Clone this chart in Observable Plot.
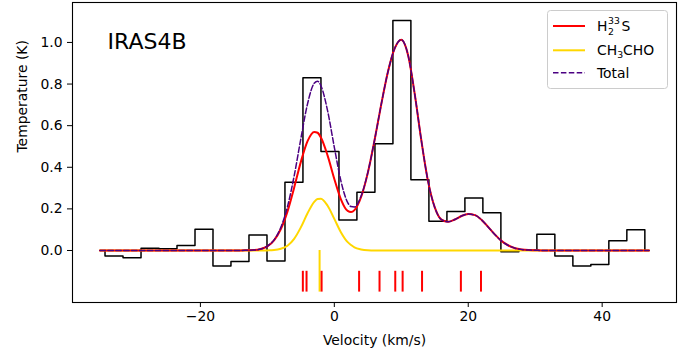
<!DOCTYPE html>
<html><head><meta charset="utf-8">
<script src="https://cdn.jsdelivr.net/npm/d3@7"></script>
<script src="https://cdn.jsdelivr.net/npm/@observablehq/plot@0.6"></script>
<style>
body{margin:0;background:#fff;}
#chart{width:691px;height:356px;}
</style></head><body><div id="chart"></div>
<script>
// Observed spectrum (channel centres, km/s) and brightness temperature (K)
const channelVelocity = [-32.90,-30.21,-27.52,-24.84,-22.15,-19.46,-16.78,-14.09,-11.40,-8.71,
  -6.03,-3.34,-0.65,2.03,4.72,7.41,10.09,12.78,15.47,18.16,
  20.84,23.53,26.22,28.91,31.59,34.28,36.97,39.65,42.34,45.03];
const channelTemperature = [-0.027,-0.035,0.011,0.008,0.024,0.102,-0.075,-0.053,0.074,-0.051,
  0.328,0.830,0.476,0.147,0.280,0.513,1.106,0.340,0.141,0.188,
  0.252,0.181,-0.006,0.001,0.078,-0.027,-0.074,-0.067,0.047,0.100];

// Model curves
const modelVelocity = [-35,-14,-13,-12,-11,-10,-9,-8,-7,-6,-5,-4,-3,-2.5,-2,-1,0,1,2,2.5,3,4,5,6,7,8,9,10,
  11,12,13,14,15,16,17,18,19,20,21,22,23,24,25,26,27,28,29,30,31,47];
const h2s33Model = [0,0,0.001,0.002,0.007,0.020,0.049,0.102,0.187,0.302,0.426,0.526,0.570,0.566,0.543,0.456,0.344,0.245,0.190,0.185,0.194,0.257,0.373,0.529,0.701,0.858,0.970,1.013,
  0.941,0.754,0.528,0.332,0.207,0.148,0.138,0.149,0.166,0.175,0.170,0.147,0.112,0.076,0.045,0.024,0.011,0.005,0.002,0.001,0,0];
const ch3choModel = [0,0,0,0,0,0.0005,0.002,0.008,0.023,0.056,0.111,0.179,0.234,0.248,0.249,0.215,0.152,0.087,0.040,0.026,0.015,0.005,0.001,0,0,0,0,0,
  0,0,0,0,0,0,0,0,0,0,0,0,0,0,0,0,0,0,0,0,0,0];
const totalModel = [0,0,0.001,0.002,0.007,0.021,0.051,0.110,0.210,0.358,0.537,0.705,0.804,0.814,0.792,0.671,0.496,0.332,0.230,0.211,0.209,0.262,0.374,0.529,0.701,0.858,0.970,1.013,
  0.941,0.754,0.528,0.332,0.207,0.148,0.138,0.149,0.166,0.175,0.170,0.147,0.112,0.076,0.045,0.024,0.011,0.005,0.002,0.001,0,0];

// Line positions (km/s)
const h2s33Lines = [-4.70,-4.15,-1.90,3.70,6.75,9.10,10.20,13.10,18.90,21.90];
const ch3choLines = [-2.20];
const h2s33TickSpan = [-0.10,-0.20];
const ch3choTickSpan = [0,-0.20];

const xTicks = [-20,0,20,40];
const yTicks = [0,0.2,0.4,0.6,0.8,1.0];
const title = "IRAS4B";
const xLabel = "Velocity (km/s)";
const yLabel = "Temperature (K)";

const n = channelVelocity.length;
const w = (channelVelocity[n-1]-channelVelocity[0])/(n-1);
const stairs = [{v: channelVelocity[0]-w/2, t: 0}];
channelVelocity.forEach((c,i)=>{
  stairs.push({v:c-w/2, t:channelTemperature[i]}, {v:c+w/2, t:channelTemperature[i]});
});
stairs.push({v: channelVelocity[n-1]+w/2, t: 0});

const models = modelVelocity.map((v,i)=>({v, h2s:h2s33Model[i], ch3:ch3choModel[i], tot:totalModel[i]}));

const RED = "#ff0000", GOLD = "#ffd700", INDIGO = "#4b0082";
const fmtX = d => d < 0 ? "\u2212" + Math.abs(d) : String(d);

const chart = Plot.plot({
  width: 691, height: 356,
  marginLeft: 72, marginRight: 15, marginTop: 2, marginBottom: 54,
  style: {fontFamily: "DejaVu Sans, sans-serif", fontSize: "13.9px", background: "white", color: "black"},
  x: {domain: [-39.1, 51.1]},
  y: {domain: [-0.25, 1.192]},
  marks: [
    Plot.line(stairs, {x: "v", y: "t", stroke: "black", strokeWidth: 1.5}),
    Plot.line(models, {x: "v", y: "ch3", stroke: GOLD, strokeWidth: 2, curve: "monotone-x"}),
    Plot.line(models, {x: "v", y: "h2s", stroke: RED, strokeWidth: 2, curve: "monotone-x"}),
    Plot.line(models, {x: "v", y: "tot", stroke: INDIGO, strokeWidth: 1.5, strokeDasharray: "5.5,2.4", curve: "monotone-x"}),
    Plot.ruleX(ch3choLines, {x: d => d, y1: ch3choTickSpan[0], y2: ch3choTickSpan[1], stroke: GOLD, strokeWidth: 2}),
    Plot.ruleX(h2s33Lines, {x: d => d, y1: h2s33TickSpan[0], y2: h2s33TickSpan[1], stroke: RED, strokeWidth: 2}),
    Plot.frame({stroke: "black", strokeWidth: 1.1}),
    Plot.axisX({ticks: xTicks, tickFormat: fmtX, tickSize: 5, tickPadding: 4, label: null}),
    Plot.axisY({ticks: yTicks, tickFormat: d3.format(".1f"), tickSize: 5, tickPadding: 5, label: null}),
    Plot.text([title], {frameAnchor: "top-left", dx: 35, dy: 31, text: d => d, fontSize: 22, textAnchor: "start", lineAnchor: "top"}),
    Plot.text([xLabel], {frameAnchor: "bottom", dy: 38, text: d => d, lineAnchor: "middle"}),
    Plot.text([yLabel], {frameAnchor: "left", dx: -50, text: d => d, rotate: -90, lineAnchor: "middle"})
  ]
});
document.getElementById("chart").appendChild(chart);

// Legend
const svg = d3.select(chart);
const FS = "13.9px", FSS = "9.3px";
const lg = svg.append("g").style("font-family", "DejaVu Sans, sans-serif").style("font-size", FS)
  .attr("text-anchor", "start").style("text-anchor", "start").attr("fill", "black");
lg.append("rect").attr("x", 547.5).attr("y", 10.5).attr("width", 120).attr("height", 78).attr("rx", 3)
  .attr("fill", "white").attr("fill-opacity", 0.8).attr("stroke", "#cccccc").attr("stroke-width", 1);
lg.append("line").attr("x1", 553).attr("x2", 585).attr("y1", 26).attr("y2", 26).attr("stroke", RED).attr("stroke-width", 2);
lg.append("line").attr("x1", 553).attr("x2", 585).attr("y1", 50.3).attr("y2", 50.3).attr("stroke", GOLD).attr("stroke-width", 2);
lg.append("line").attr("x1", 553).attr("x2", 585).attr("y1", 72.7).attr("y2", 72.7).attr("stroke", INDIGO).attr("stroke-width", 1.5).attr("stroke-dasharray", "5.5,2.4");
const t1 = lg.append("text").attr("x", 597).attr("y", 30.7).style("font-size", FS).style("text-anchor", "start");
t1.append("tspan").style("font-size", FS).text("H");
t1.append("tspan").attr("x", 608).attr("y", 35).style("font-size", FSS).text("2");
t1.append("tspan").attr("x", 608).attr("y", 24).style("font-size", FSS).text("33");
t1.append("tspan").attr("x", 621.5).attr("y", 30.7).style("font-size", FS).text("S");
const t2 = lg.append("text").attr("x", 597).attr("y", 55.2).style("font-size", FS).style("text-anchor", "start");
t2.append("tspan").style("font-size", FS).text("CH");
t2.append("tspan").style("font-size", FSS).attr("dy", 2.8).text("3");
t2.append("tspan").style("font-size", FS).attr("dy", -2.8).text("CHO");
lg.append("text").attr("x", 597).attr("y", 77.6).style("font-size", FS).style("text-anchor", "start").text("Total");
</script>
</body></html>
